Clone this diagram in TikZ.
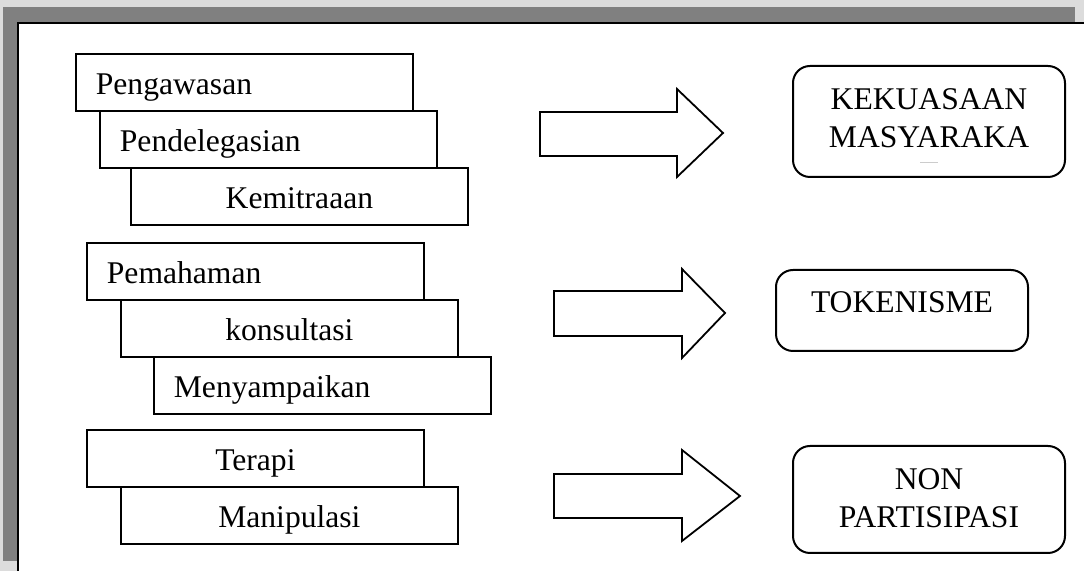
\documentclass[tikz,border=0pt]{standalone}
\usepackage{fontspec}
\setmainfont{Liberation Serif}
\definecolor{abuMuda}{HTML}{DCDCDC}
\definecolor{abuTua}{HTML}{808080}
\tikzset{
    kotak/.style={draw, fill=white, line width=0.9pt, anchor=north west,
        minimum height=28.5pt, inner xsep=10pt, text width=148.5pt,
        text height=12pt, text depth=0pt, font=\fontsize{15.8}{19}\selectfont},
    kiri/.style={align=left},
    tengah/.style={align=center},
    hasil/.style={draw, rounded corners=8.5pt, line width=1pt, align=center,
        font=\fontsize{15.8}{19}\selectfont},
    panah/.style={draw, fill=white, line width=0.9pt, line join=miter}
}
\begin{document}
\begin{tikzpicture}[x=0.5pt, y=-0.5pt]
        \useasboundingbox (0,0) rectangle (1084,571);

        % Bingkai
        \fill[abuMuda] (0,0) rectangle (1084,22);
        \fill[abuMuda] (0,0) rectangle (17,571);
        \fill[abuTua] (3,7) rectangle (1075,22);
        \fill[abuTua] (3,7) rectangle (17,561);
        \draw[line width=1pt] (18,571) -- (18,23) -- (1084,23);

        % Tangga kiri
        \node[kotak, kiri] (awas) at (75,53) {Pengawasan};
        \node[kotak, kiri] (delegasi) at (99,110) {Pendelegasian};
        \node[kotak, tengah] (mitra) at (130,167) {Kemitraaan};

        \node[kotak, kiri] (paham) at (86,242) {Pemahaman};
        \node[kotak, tengah] (konsul) at (120,299) {konsultasi};
        \node[kotak, kiri] (sampai) at (153,356) {Menyampaikan};

        \node[kotak, tengah] (terapi) at (86,429) {Terapi};
        \node[kotak, tengah] (manip) at (120,486) {Manipulasi};

        % Panah
        \draw[panah] (540,112) -- (677,112) -- (677,89) -- (723,133)
            -- (677,177) -- (677,156) -- (540,156) -- cycle;
        \draw[panah] (554,291) -- (682,291) -- (682,269) -- (725,313)
            -- (682,358) -- (682,336) -- (554,336) -- cycle;
        \draw[panah] (554,474) -- (682,474) -- (682,450) -- (740,496)
            -- (682,541) -- (682,518) -- (554,518) -- cycle;

        % Hasil
        \node[hasil, minimum width=136pt, minimum height=55.5pt,
            text height=30pt, text depth=3.5pt]
            (kuasa) at (929,121.5) {KEKUASAAN\\MASYARAKA};
        \draw[gray!40] (920,162) -- (938,162);
        \node[hasil, minimum width=126pt, minimum height=40.5pt,
            text height=11pt, text depth=8.5pt]
            (token) at (902,310.5) {TOKENISME};
        \node[hasil, minimum width=136pt, minimum height=53.5pt,
            text height=30pt, text depth=1.5pt]
            (nonpar) at (929,499.5) {NON\\PARTISIPASI};
    \end{tikzpicture}
\end{document}
